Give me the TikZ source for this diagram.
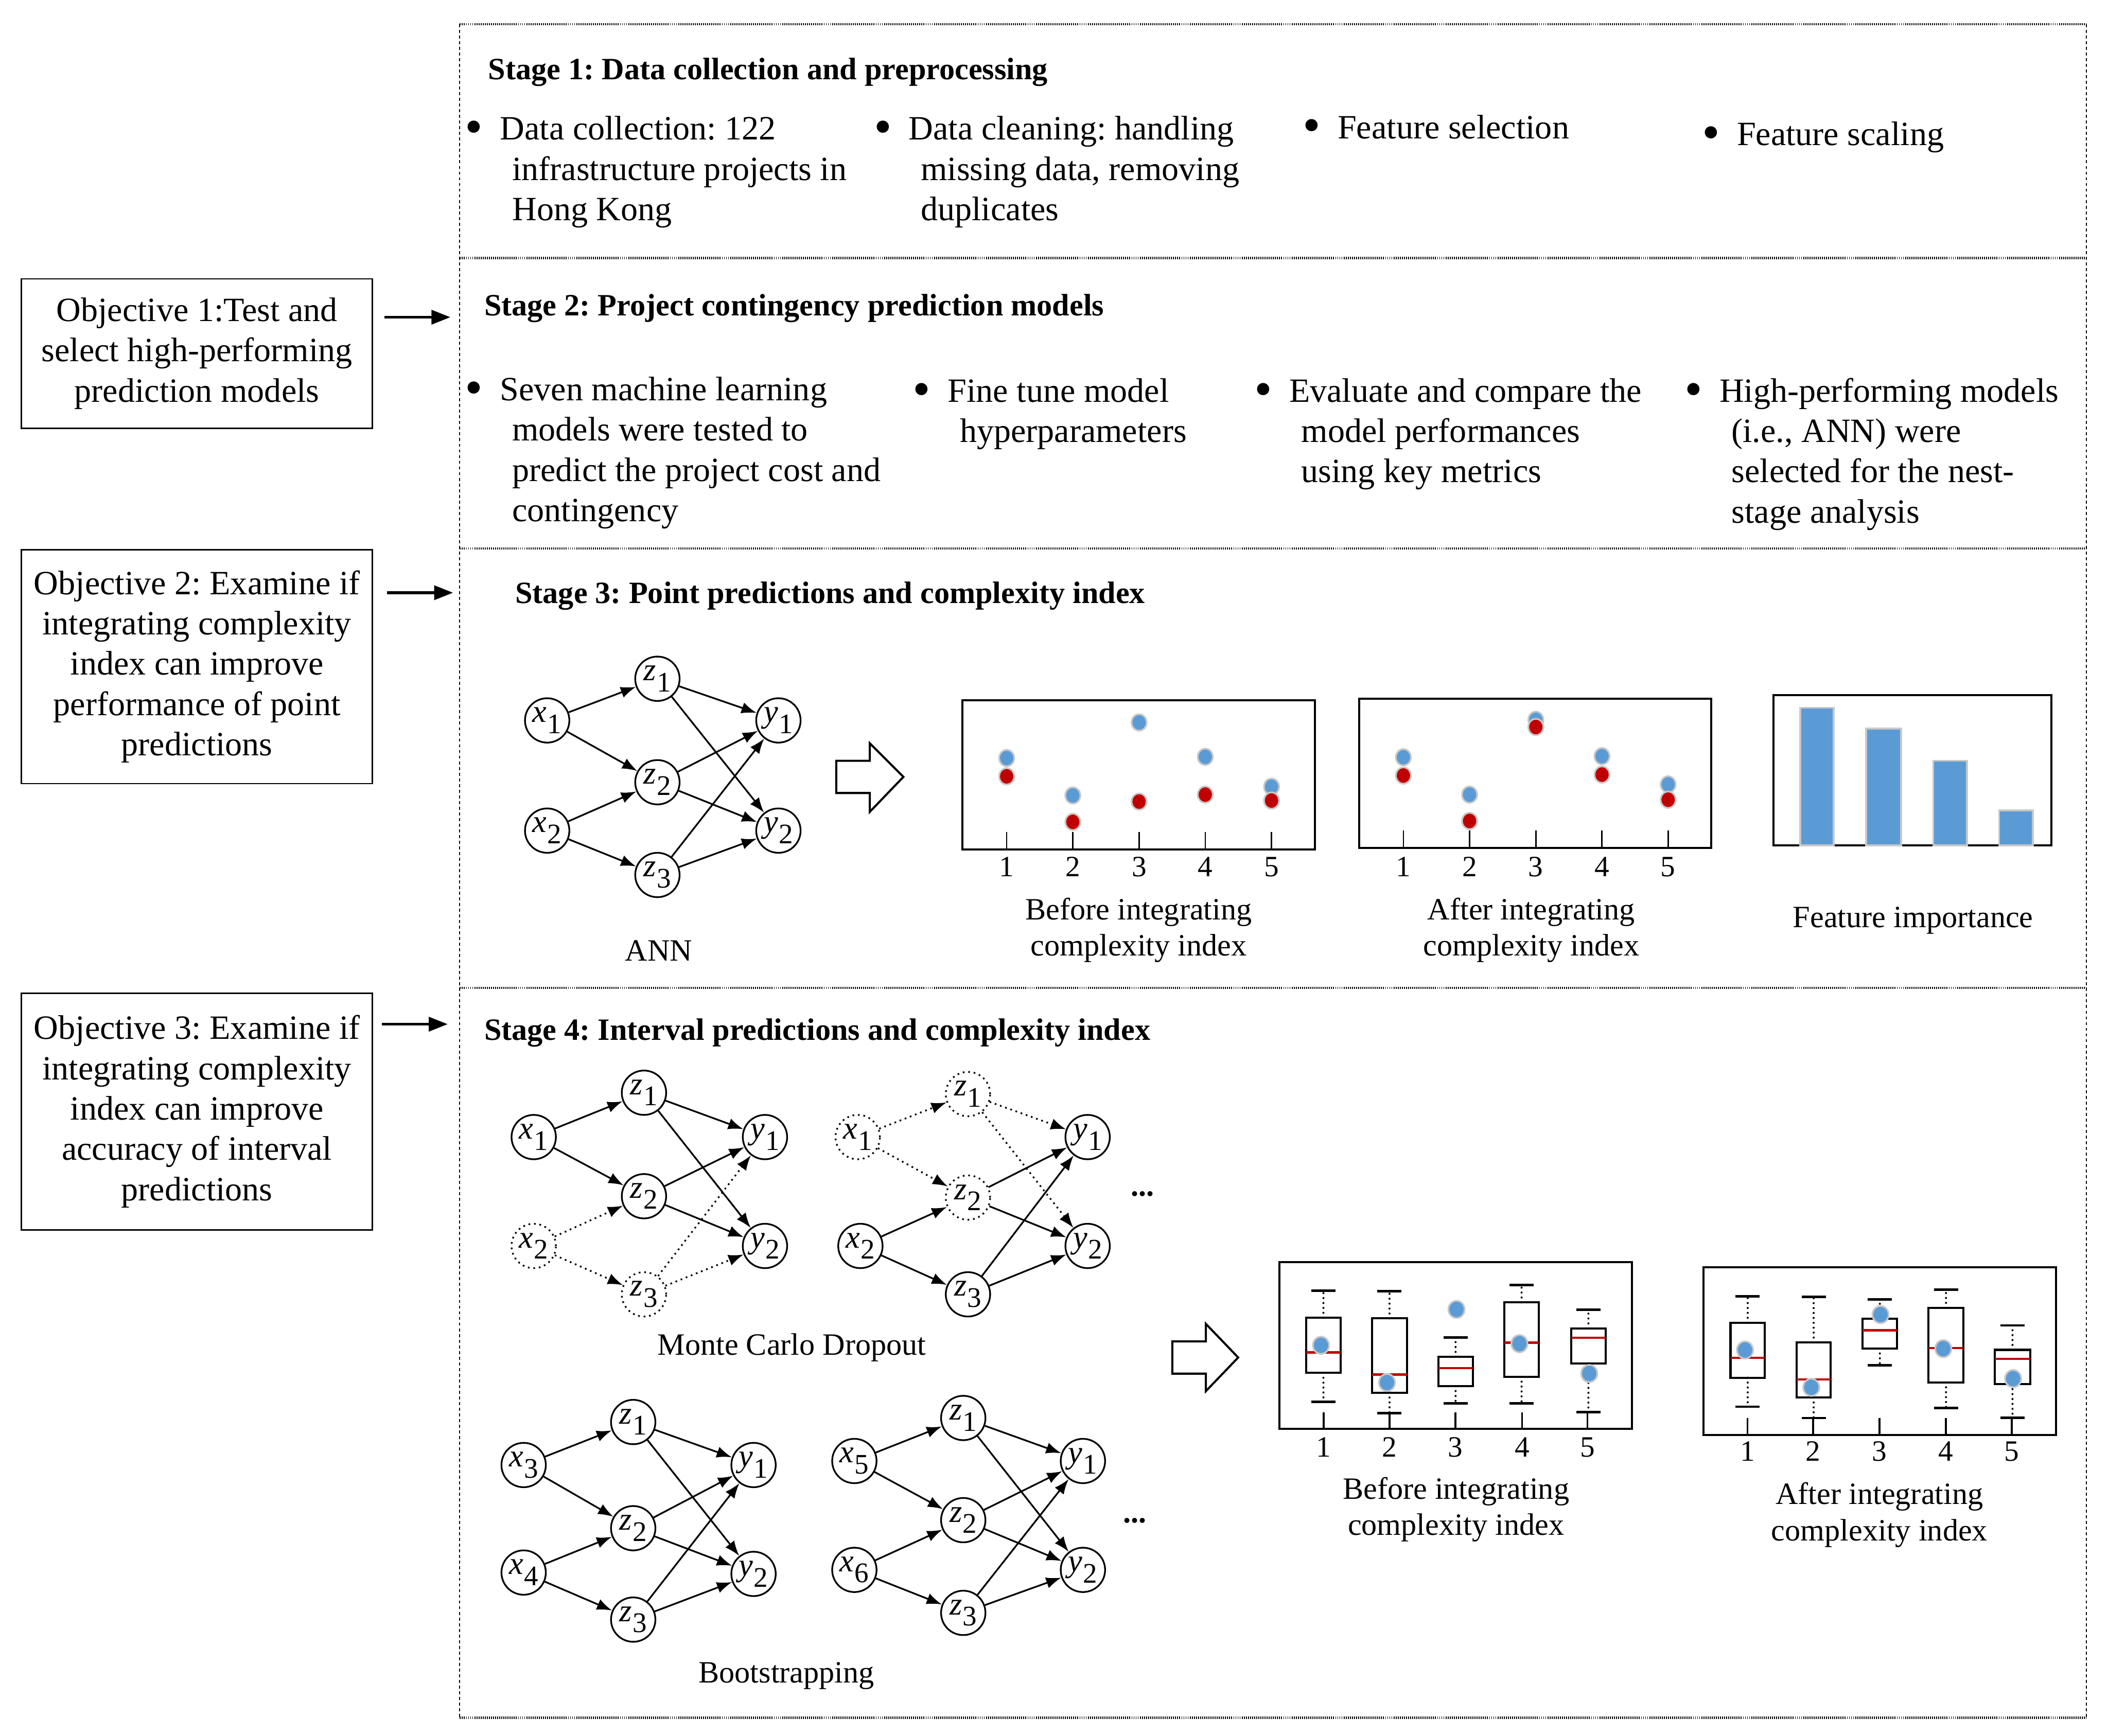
\documentclass[tikz,border=0pt]{standalone}
\usepackage{fontspec}
\setmainfont{Liberation Serif}
\usetikzlibrary{arrows.meta}
\definecolor{bblue}{HTML}{5B9BD5}
\definecolor{rred}{HTML}{C00000}
\definecolor{ggrey}{HTML}{C8C8C8}
\frenchspacing
\newcommand{\bodyfont}{\fontsize{18}{21.34}\selectfont}
\newcommand{\titlefont}{\fontsize{16.4}{19.5}\selectfont\bfseries}
\newcommand{\capfont}{\fontsize{16.4}{19.2}\selectfont}
\newcommand{\nodefont}{\fontsize{17}{18}\selectfont}
\newcommand{\axfont}{\fontsize{15.6}{18}\selectfont}
\newcommand{\nv}[2]{\textit{#1}\kern0.02em\raisebox{-0.75ex}{\fontsize{15}{15}\selectfont #2}}
\newcommand{\bul}{\llap{\raisebox{-0.12em}{\scalebox{1.5}{\textbullet}}\hspace{9pt}}}
\newcommand{\ind}{\hspace*{6.4pt}}
\newcommand{\netedges}[1]{\foreach \ea/\eb in {i1/h1,i1/h2,i2/h2,i2/h3,h1/o1,h1/o2,h2/o1,h2/o2,h3/o1,h3/o2} \draw[nnedge] (#1\ea) -- (#1\eb);}
\begin{document}
\begin{tikzpicture}[x=0.025cm,y=-0.025cm,
 body/.style={font=\bodyfont, inner sep=0, outer sep=0, align=left},
 ttl/.style={font=\titlefont, inner sep=0, anchor=base west},
 capt/.style={font=\capfont, inner sep=0, align=center},
 axl/.style={font=\axfont, inner sep=0, anchor=base},
 objbox/.style={draw, line width=0.8pt, font=\bodyfont, align=center, inner sep=0, minimum width=6.525cm},
 objarrow/.style={line width=1.4pt, -{Triangle[length=10pt,width=7.5pt]}},
 frameh/.style={line width=1.2pt, dash pattern=on 0.5pt off 0.6pt},
 framev/.style={line width=0.6pt, dash pattern=on 1.6pt off 1.4pt},
 neuron/.style={circle, draw, line width=0.9pt, minimum size=0.825cm, inner sep=0, font=\nodefont},
 dneuron/.style={neuron, dotted},
 nnedge/.style={line width=0.9pt, -{Latex[length=8pt,width=6pt]}},
 dnedge/.style={nnedge, dotted},
 hollow/.style={draw, line width=1.1pt, fill=white, line join=miter},
 plotframe/.style={draw, line width=1.1pt},
 axtick/.style={line width=0.7pt},
 dotb/.style={fill=bblue, draw=ggrey, line width=0.9pt},
 dotr/.style={fill=rred, draw=ggrey, line width=0.9pt},
 fibar/.style={fill=bblue, draw=ggrey, line width=1pt},
 bpbox/.style={line width=1.1pt},
 bpcap/.style={line width=1.3pt},
 bpmed/.style={draw=rred, line width=1.2pt},
 whisk/.style={line width=1.1pt, line cap=round, dash pattern=on 0pt off 2.6pt}
]
\useasboundingbox (0,0) rectangle (1568,1291.5);

% ---------- outer frame ----------
\draw[framev] (342,18) -- (342,1278);
\draw[framev] (1552,18) -- (1552,1278);
\foreach \yy in {18,192,408,735,1278} \draw[frameh] (342,\yy) -- (1552,\yy);

% ---------- objectives ----------
\node[objbox, minimum height=2.775cm] (o1) at (146.5,263) {Objective 1:Test and\\select high-performing\\prediction models};
\node[objbox, minimum height=4.35cm] (o2) at (146.5,496) {Objective 2: Examine if\\integrating complexity\\index can improve\\performance of point\\predictions};
\node[objbox, minimum height=4.4cm] (o3) at (146.5,827) {Objective 3: Examine if\\integrating complexity\\index can improve\\accuracy of interval\\predictions};
\coordinate (a1s) at (286,236); \coordinate (a1e) at (335,236);
\coordinate (a2s) at (288,441); \coordinate (a2e) at (337,441);
\coordinate (a3s) at (284,762); \coordinate (a3e) at (333,762);
\draw[objarrow] (a1s) -- (a1e);
\draw[objarrow] (a2s) -- (a2e);
\draw[objarrow] (a3s) -- (a3e);

% ---------- titles ----------
\node[ttl] (t1) at (363,59) {Stage 1: Data collection and preprocessing};
\node[ttl] (t2) at (360,235) {Stage 2: Project contingency prediction models};
\node[ttl] (t3) at (383,449) {Stage 3: Point predictions and complexity index};
\node[ttl] (t4) at (360,774) {Stage 4: Interval predictions and complexity index};

% ---------- stage 1 bullets ----------
\node[body, anchor=north west] (b11) at (372,83) {\bul\strut Data collection: 122\\\ind infrastructure projects in\\\ind Hong Kong};
\node[body, anchor=north west] (b12) at (676,83) {\bul\strut Data cleaning: handling\\\ind missing data, removing\\\ind duplicates};
\node[body, anchor=base west] (b13) at (995,103) {\bul Feature selection};
\node[body, anchor=base west] (b14) at (1292,108) {\bul Feature scaling};

% ---------- stage 2 bullets ----------
\node[body, anchor=north west] (b21) at (372,277) {\bul\strut Seven machine learning\\\ind models were tested to\\\ind predict the project cost and\\\ind contingency};
\node[body, anchor=north west] (b22) at (705,278) {\bul\strut Fine tune model\\\ind hyperparameters};
\node[body, anchor=north west] (b23) at (959,278) {\bul\strut Evaluate and compare the\\\ind model performances\\\ind using key metrics};
\node[body, anchor=north west] (b24) at (1279,278) {\bul\strut High-performing models\\\ind (i.e., ANN) were\\\ind selected for the nest-\\\ind stage analysis};

% ---------- stage 3: ANN ----------
\node[neuron] (ai1) at (407,536) {\nv{x}{1}};
\node[neuron] (ai2) at (407,618) {\nv{x}{2}};
\node[neuron] (ah1) at (489,505) {\nv{z}{1}};
\node[neuron] (ah2) at (489,582) {\nv{z}{2}};
\node[neuron] (ah3) at (489,651) {\nv{z}{3}};
\node[neuron] (ao1) at (579,536) {\nv{y}{1}};
\node[neuron] (ao2) at (579,618) {\nv{y}{2}};
\netedges{a}
\node[capt, anchor=base] (annlab) at (490,715) {ANN};

\draw[hollow] (622,566) -- (647,566) -- (647,553) -- (672,578) -- (647,604) -- (647,590) -- (622,590) -- cycle;

% scatter before
\draw[plotframe] (716,521) rectangle (978,632);
\foreach \xx [count=\i] in {748.8,798,847.3,896.5,945.8} {
  \draw[axtick] (\xx,619) -- (\xx,632);
  \node[axl] (sbl\i) at (\xx,652) {\i};
}
\foreach \xx/\yb/\yr in {748.8/564/577.6, 798/591.8/611.5, 847.3/537.5/596.4, 896.5/563.1/591.2, 945.8/585.3/595.6} {
  \filldraw[dotb] (\xx,\yb) ellipse [x radius=0.14cm, y radius=0.152cm];
  \filldraw[dotr] (\xx,\yr) ellipse [x radius=0.14cm, y radius=0.152cm];
}
\node[capt, anchor=north] (capsb) at (847,665) {\strut Before integrating\\complexity index};

% scatter after
\draw[plotframe] (1011,520) rectangle (1273,631);
\foreach \xx [count=\i] in {1043.9,1093.1,1142.4,1191.6,1240.8} {
  \draw[axtick] (\xx,618) -- (\xx,631);
  \node[axl] (sal\i) at (\xx,652) {\i};
}
\foreach \xx/\yb/\yr in {1043.9/563.4/577, 1093.1/591.2/610.8, 1142.4/535.5/540.9, 1191.6/562.6/576.3, 1240.8/583.6/595} {
  \filldraw[dotb] (\xx,\yb) ellipse [x radius=0.14cm, y radius=0.152cm];
  \filldraw[dotr] (\xx,\yr) ellipse [x radius=0.14cm, y radius=0.152cm];
}
\node[capt, anchor=north] (capsa) at (1139,665) {\strut After integrating\\complexity index};

% feature importance
\draw[plotframe] (1319,517) rectangle (1526,629);
\foreach \la/\ra/\ta in {1339/1364/526.6, 1388/1414/542, 1438/1463/566, 1487/1512/603}
  \filldraw[fibar] (\la,629) rectangle (\ra,\ta);
\node[capt, anchor=base] (fil) at (1423,690) {Feature importance};

% ---------- stage 4: MC dropout ----------
\node[neuron]  (mi1) at (397,846) {\nv{x}{1}};
\node[dneuron] (mi2) at (397,927) {\nv{x}{2}};
\node[neuron]  (mh1) at (479,813) {\nv{z}{1}};
\node[neuron]  (mh2) at (479,890) {\nv{z}{2}};
\node[dneuron] (mh3) at (479,963) {\nv{z}{3}};
\node[neuron]  (mo1) at (569,846) {\nv{y}{1}};
\node[neuron]  (mo2) at (569,927) {\nv{y}{2}};
\foreach \ea/\eb in {i1/h1,i1/h2,h1/o1,h1/o2,h2/o1,h2/o2} \draw[nnedge] (m\ea) -- (m\eb);
\foreach \ea/\eb in {i2/h2,i2/h3,h3/o1,h3/o2} \draw[dnedge] (m\ea) -- (m\eb);

\node[dneuron] (ni1) at (638,846) {\nv{x}{1}};
\node[neuron]  (ni2) at (640,927) {\nv{x}{2}};
\node[dneuron] (nh1) at (720,814) {\nv{z}{1}};
\node[dneuron] (nh2) at (720,891) {\nv{z}{2}};
\node[neuron]  (nh3) at (720,963) {\nv{z}{3}};
\node[neuron]  (no1) at (809,846) {\nv{y}{1}};
\node[neuron]  (no2) at (809,927) {\nv{y}{2}};
\foreach \ea/\eb in {i2/h2,i2/h3,h2/o1,h2/o2,h3/o1,h3/o2} \draw[nnedge] (n\ea) -- (n\eb);
\foreach \ea/\eb in {i1/h1,i1/h2,h1/o1,h1/o2} \draw[dnedge] (n\ea) -- (n\eb);
\node[capt, anchor=base, font=\capfont\bfseries] (dots1) at (850,890) {...};
\node[capt, anchor=base] (mclab) at (589,1008) {Monte Carlo Dropout};

% bootstrapping
\node[neuron] (pi1) at (389.5,1090) {\nv{x}{3}};
\node[neuron] (pi2) at (389.5,1170) {\nv{x}{4}};
\node[neuron] (ph1) at (471,1058) {\nv{z}{1}};
\node[neuron] (ph2) at (471,1137) {\nv{z}{2}};
\node[neuron] (ph3) at (471,1205) {\nv{z}{3}};
\node[neuron] (po1) at (560.5,1090) {\nv{y}{1}};
\node[neuron] (po2) at (560.5,1171) {\nv{y}{2}};
\netedges{p}
\node[neuron] (qi1) at (635.5,1087) {\nv{x}{5}};
\node[neuron] (qi2) at (635.5,1168) {\nv{x}{6}};
\node[neuron] (qh1) at (716.5,1055) {\nv{z}{1}};
\node[neuron] (qh2) at (716.5,1131) {\nv{z}{2}};
\node[neuron] (qh3) at (716.5,1200) {\nv{z}{3}};
\node[neuron] (qo1) at (805.5,1087) {\nv{y}{1}};
\node[neuron] (qo2) at (805.5,1168) {\nv{y}{2}};
\netedges{q}
\node[capt, anchor=base, font=\capfont\bfseries] (dots2) at (844,1133) {...};
\node[capt, anchor=base] (bslab) at (585,1252) {Bootstrapping};

\draw[hollow] (872,998) -- (897,998) -- (897,985) -- (921,1010) -- (897,1035) -- (897,1022) -- (872,1022) -- cycle;

% box plot before
\draw[plotframe] (951.5,939) rectangle (1214,1063);
\foreach \xx [count=\i] in {984.5,1033.6,1082.7,1132.1,1180.8} {
  \draw[axtick, line width=1pt] (\xx,1051) -- (\xx,1063);
  \node[axl] (bbl\i) at (\xx,1084) {\i};
}
\foreach \bl/\br/\bt/\bb/\bmed/\bu/\bw/\bdx/\bdy in {
 971.6/997.2/980.4/1021.4/1006.2/960.4/1042.9/982.6/1000.9,
 1020.6/1046.5/980.9/1036.1/1022.7/960.7/1051.3/1031.7/1028.6,
 1069.9/1095.5/1009.5/1031.3/1017.9/995.2/1044/1083.4/974.2,
 1119.0/1144.6/969.0/1024.3/998.9/956.0/1044/1130.2/999.7,
 1168.7/1194.3/988.3/1014.3/995.2/974.4/1050.6/1182.1/1021.9} {
  \pgfmathsetmacro{\bc}{(\bl+\br)/2}
  \draw[whisk] (\bc,\bt) -- (\bc,\bu);
  \draw[whisk] (\bc,\bb) -- (\bc,\bw);
  \draw[bpcap] (\bc-9,\bu) -- (\bc+9,\bu);
  \draw[bpcap] (\bc-9,\bw) -- (\bc+9,\bw);
  \draw[bpbox] (\bl,\bt) rectangle (\br,\bb);
  \draw[bpmed] (\bl,\bmed) -- (\br,\bmed);
  \filldraw[dotb] (\bdx,\bdy) ellipse [x radius=0.15cm, y radius=0.16cm];
}
\node[capt, anchor=north] (capbb) at (1083,1096) {\strut Before integrating\\complexity index};

% box plot after
\draw[plotframe] (1267,943) rectangle (1529.4,1067.7);
\foreach \xx [count=\i] in {1299.8,1348.7,1398.1,1447.3,1496.5} {
  \draw[axtick, line width=1pt] (\xx,1055) -- (\xx,1067.7);
  \node[axl] (bal\i) at (\xx,1087) {\i};
}
\foreach \bl/\br/\bt/\bb/\bmed/\bu/\bw/\bdx/\bdy in {
 1287.2/1312.8/984.1/1025.0/1010.2/964.5/1046.6/1298.0/1004.4,
 1336.3/1361.8/998.8/1039.8/1026.4/964.8/1055.0/1347.3/1032.2,
 1385.5/1411.1/981.0/1003.3/989.8/966.9/1015.7/1398.8/978.1,
 1434.5/1460.5/973.0/1028.5/1002.9/959.6/1047.7/1445.5/1003.4,
 1483.7/1510.2/1004.3/1029.9/1011.0/986.1/1054.7/1497.4/1025.7} {
  \pgfmathsetmacro{\bc}{(\bl+\br)/2}
  \draw[whisk] (\bc,\bt) -- (\bc,\bu);
  \draw[whisk] (\bc,\bb) -- (\bc,\bw);
  \draw[bpcap] (\bc-9,\bu) -- (\bc+9,\bu);
  \draw[bpcap] (\bc-9,\bw) -- (\bc+9,\bw);
  \draw[bpbox] (\bl,\bt) rectangle (\br,\bb);
  \draw[bpmed] (\bl,\bmed) -- (\br,\bmed);
  \filldraw[dotb] (\bdx,\bdy) ellipse [x radius=0.15cm, y radius=0.16cm];
}
\node[capt, anchor=north] (capba) at (1398,1100) {\strut After integrating\\complexity index};
\end{tikzpicture}
\end{document}
